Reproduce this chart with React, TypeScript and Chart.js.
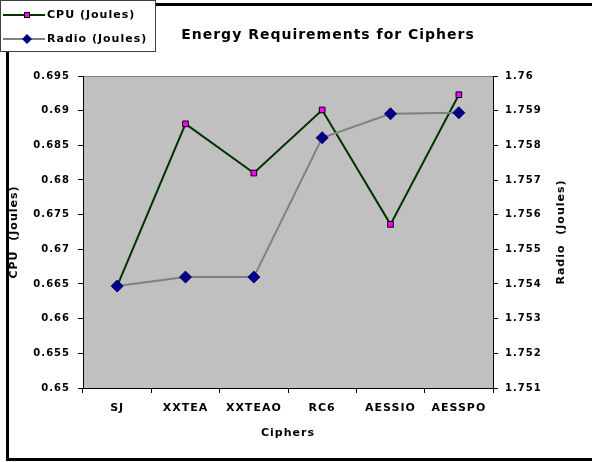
import React, { useEffect, useRef } from "react";
import { Chart, registerables } from "chart.js";

Chart.register(...registerables);

const ciphers = ["SJ", "XXTEA", "XXTEAO", "RC6", "AESSIO", "AESSPO"];
const cpuJoules = [0.6647, 0.6881, 0.681, 0.6901, 0.6736, 0.6923];
const radioJoules = [1.75394, 1.7542, 1.7542, 1.75822, 1.75891, 1.75894];
const cpuTicks = [0.65, 0.655, 0.66, 0.665, 0.67, 0.675, 0.68, 0.685, 0.69, 0.695];
const radioTicks = [1.751, 1.752, 1.753, 1.754, 1.755, 1.756, 1.757, 1.758, 1.759, 1.76];
const seriesNames = ["CPU (Joules)", "Radio (Joules)"];
const chartTitle = "Energy Requirements for Ciphers";
const xTitle = "Ciphers";
const cpuAxisTitle = "CPU  (Joules)";
const radioAxisTitle = "Radio  (Joules)";

const FAMILY = "'DejaVu Sans', 'Liberation Sans', sans-serif";
const CPU_LINE = "#003300";
const CPU_MARK = "#FF00FF";
const RADIO_LINE = "#808080";
const RADIO_MARK = "#000080";

const fmt = (v: any) => String(parseFloat(Number(v).toFixed(4)));

const decor = {
  id: "decor",
  beforeDraw(chart: any) {
    const { ctx, chartArea: a } = chart;
    ctx.letterSpacing = "1px";
    ctx.save();
    ctx.fillStyle = "#ffffff";
    ctx.fillRect(0, 0, chart.width, chart.height);
    ctx.fillStyle = "#C0C0C0";
    ctx.fillRect(a.left, a.top, a.right - a.left, a.bottom - a.top);
    ctx.strokeStyle = "#808080";
    ctx.lineWidth = 1;
    ctx.beginPath();
    ctx.moveTo(a.left, a.top + 0.5);
    ctx.lineTo(a.right, a.top + 0.5);
    ctx.stroke();
    ctx.restore();
  },
  afterDraw(chart: any) {
    const { ctx, chartArea: a } = chart;
    ctx.save();
    // outer frame
    ctx.fillStyle = "#000";
    ctx.fillRect(6, 3, chart.width - 6, 3);
    ctx.fillRect(6, 3, 3, 458);
    ctx.fillRect(6, 458, chart.width - 6, 3);
    // title
    ctx.fillStyle = "#000";
    ctx.font = `bold 14px ${FAMILY}`;
    ctx.textAlign = "center";
    ctx.textBaseline = "middle";
    ctx.fillText(chartTitle, 328, 35);
    // right axis title
    ctx.save();
    ctx.translate(561, (a.top + a.bottom) / 2);
    ctx.rotate(-Math.PI / 2);
    ctx.font = `bold 11px ${FAMILY}`;
    ctx.fillText(radioAxisTitle, 0, 0);
    ctx.restore();
    // legend
    ctx.fillStyle = "#fff";
    ctx.fillRect(0, 0, 156, 52);
    ctx.strokeStyle = "#404040";
    ctx.lineWidth = 1;
    ctx.strokeRect(0.5, 0.5, 155, 51);
    const rows = [
      { y: 15, line: CPU_LINE, name: seriesNames[0], kind: "sq" },
      { y: 39, line: RADIO_LINE, name: seriesNames[1], kind: "dia" },
    ];
    rows.forEach((r) => {
      ctx.strokeStyle = r.line;
      ctx.lineWidth = 2;
      ctx.beginPath();
      ctx.moveTo(3, r.y);
      ctx.lineTo(45, r.y);
      ctx.stroke();
      if (r.kind === "sq") {
        ctx.fillStyle = CPU_MARK;
        ctx.fillRect(24, r.y - 3, 6, 6);
        ctx.strokeStyle = "#000";
        ctx.lineWidth = 1;
        ctx.strokeRect(24.5, r.y - 2.5, 5, 5);
      } else {
        ctx.fillStyle = RADIO_MARK;
        ctx.beginPath();
        ctx.moveTo(27, r.y - 5);
        ctx.lineTo(32, r.y);
        ctx.lineTo(27, r.y + 5);
        ctx.lineTo(22, r.y);
        ctx.closePath();
        ctx.fill();
      }
      ctx.fillStyle = "#000";
      ctx.font = `bold 11px ${FAMILY}`;
      ctx.textAlign = "left";
      ctx.textBaseline = "middle";
      ctx.fillText(r.name, 47, r.y);
    });
    ctx.restore();
  },
};

export default function App() {
  const ref = useRef<HTMLCanvasElement | null>(null);
  useEffect(() => {
    if (!ref.current) return;
    const chart = new Chart(ref.current, {
      type: "line",
      data: {
        labels: ciphers,
        datasets: [
          {
            label: seriesNames[0],
            data: cpuJoules,
            yAxisID: "y",
            borderColor: CPU_LINE,
            borderWidth: 2,
            pointStyle: "rect",
            pointRadius: 4,
            pointBackgroundColor: CPU_MARK,
            pointBorderColor: "#000",
            pointBorderWidth: 1,
            tension: 0,
            order: 2,
          },
          {
            label: seriesNames[1],
            data: radioJoules,
            yAxisID: "y1",
            borderColor: RADIO_LINE,
            borderWidth: 2,
            pointStyle: "rectRot",
            pointRadius: 6,
            pointBackgroundColor: RADIO_MARK,
            pointBorderColor: RADIO_MARK,
            pointBorderWidth: 1,
            tension: 0,
            order: 1,
          },
        ],
      },
      options: {
        animation: false,
        responsive: false,
        devicePixelRatio: 1,
        layout: { padding: { top: 76, left: 0, right: 0, bottom: 0 } },
        plugins: { legend: { display: false }, title: { display: false }, tooltip: { enabled: false } },
        scales: {
          x: {
            type: "category",
            offset: true,
            afterFit: (s: any) => { s.height = 74; },
            grid: { offset: true, drawOnChartArea: false, drawTicks: true, tickLength: 5, color: "#000" },
            border: { display: true, color: "#000", width: 1 },
            ticks: { color: "#000", font: { family: FAMILY, size: 11, weight: "bold" }, padding: 9, autoSkip: false, maxRotation: 0 },
            title: { display: true, text: xTitle, color: "#000", font: { family: FAMILY, size: 11, weight: "bold" }, padding: { top: 4, bottom: 22 } },
          },
          y: {
            position: "left",
            min: 0.65,
            max: 0.695,
            afterFit: (s: any) => { s.width = 83; },
            afterBuildTicks: (s: any) => { s.ticks = cpuTicks.map((v) => ({ value: v })); },
            grid: { drawOnChartArea: false, drawTicks: true, tickLength: 5, color: "#000" },
            border: { display: true, color: "#000", width: 1 },
            ticks: { color: "#000", font: { family: FAMILY, size: 10, weight: "bold" }, padding: 8, callback: fmt },
            title: { display: true, text: cpuAxisTitle, color: "#000", font: { family: FAMILY, size: 11, weight: "bold" }, padding: { top: 8, bottom: 4 } },
          },
          y1: {
            position: "right",
            min: 1.751,
            max: 1.76,
            afterFit: (s: any) => { s.width = 99; },
            afterBuildTicks: (s: any) => { s.ticks = radioTicks.map((v) => ({ value: v })); },
            grid: { drawOnChartArea: false, drawTicks: true, tickLength: 5, color: "#000" },
            border: { display: true, color: "#000", width: 1 },
            ticks: { color: "#000", font: { family: FAMILY, size: 10, weight: "bold" }, padding: 7, callback: fmt },
            title: { display: false },
          },
        },
      },
      plugins: [decor],
    } as any);
    return () => chart.destroy();
  }, []);
  return (
    <div style={{ position: "absolute", left: 0, top: 0, width: 592, height: 462 }}>
      <canvas ref={ref} width={592} height={462} style={{ width: 592, height: 462, display: "block" }} />
    </div>
  );
}
